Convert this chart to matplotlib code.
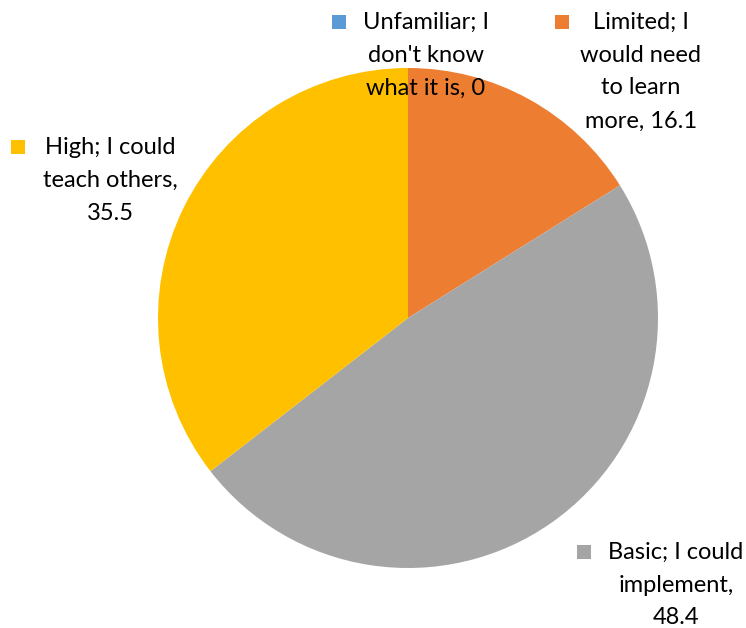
import matplotlib.pyplot as plt
from matplotlib.patches import Rectangle

# Self-rated familiarity (percent of respondents)
categories = ["Unfamiliar; I don't know what it is", "Limited; I would need to learn more",
              "Basic; I could implement", "High; I could teach others"]
values = [0, 16.1, 48.4, 35.5]
colors = ['#5B9BD5', '#ED7D31', '#A5A5A5', '#FFC000']

# Wrapped label text shown next to each slice
label_lines = [
    ["Unfamiliar; I", "don't know", "what it is, {}"],
    ["Limited; I", "would need", "to learn", "more, {}"],
    ["Basic; I could", "implement,", "{}"],
    ["High; I could", "teach others,", "{}"],
]

plt.rcParams['font.family'] = ['Lato', 'DejaVu Sans']

W, H = 746, 628
fig = plt.figure(figsize=(W / 100, H / 100), dpi=100)
ax = fig.add_axes([0, 0, 1, 1])

ax.pie(values, colors=colors, startangle=90, counterclock=False,
       center=(408, H - 318), radius=250, frame=True,
       wedgeprops=dict(linewidth=0))
ax.set_xlim(0, W)
ax.set_ylim(0, H)
ax.set_aspect('equal')
ax.axis('off')

# label block: text centre x, first line y (from top), legend key x
label_pos = [(426, 22, 332), (641, 22, 555), (676, 552, 577), (110, 147, 11)]
line_h = 33
for lines, val, color, (cx, y0, kx) in zip(label_lines, values, colors, label_pos):
    for i, ln in enumerate(lines):
        txt = ln.format(val) if '{}' in ln else ln
        ax.text(cx, H - (y0 + i * line_h), txt, ha='center', va='center',
                fontsize=17, color='#000000')
    ax.add_patch(Rectangle((kx, H - y0 - 7), 14, 14, color=color, linewidth=0))

fig.savefig('out.png', dpi=100)
